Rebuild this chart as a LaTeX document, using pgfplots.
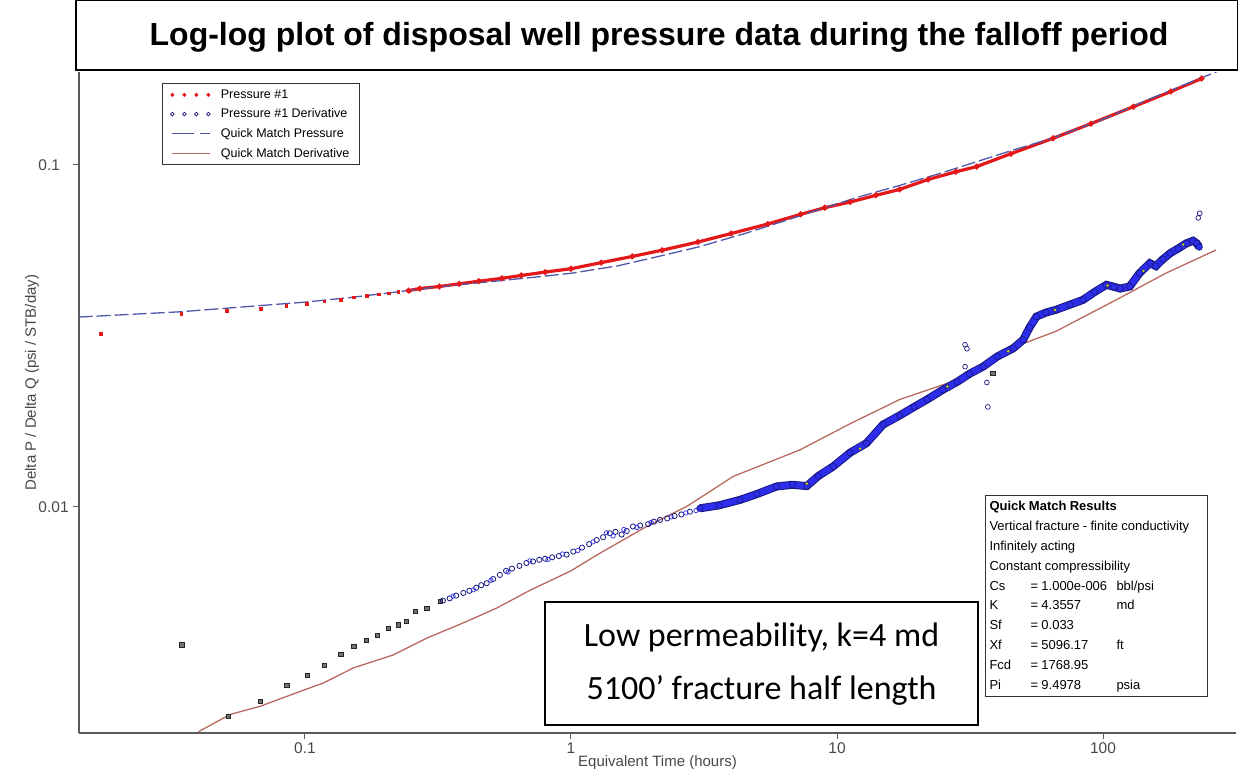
\documentclass[border=0pt]{standalone}
\usepackage{pgfplots}
\pgfplotsset{compat=1.18}
\usepackage{fontspec}
\setmainfont{Liberation Sans}
\newfontfamily\carlito{Carlito}
\definecolor{presred}{RGB}{228,24,24}
\definecolor{qmblue}{RGB}{80,88,170}
\definecolor{qmbrown}{RGB}{185,105,95}
\definecolor{derblue}{RGB}{45,45,235}
\definecolor{derdark}{RGB}{25,25,130}
\definecolor{axgray}{RGB}{90,90,90}
\begin{document}
\begin{tikzpicture}[x=1pt,y=1pt]
\useasboundingbox (0,0) rectangle (1238,772);
\begin{axis}[
  at={(79pt,39pt)}, anchor=south west,
  scale only axis, width=1157pt, height=661pt,
  xmode=log, ymode=log,
  xmin=0.01414, xmax=316.2, ymin=0.00218, ymax=0.187,
  axis x line*=bottom, axis y line*=left,
  axis line style={line width=1.6pt, axgray},
  xtick={0.1,1,10,100}, xticklabels={0.1,1,10,100},
  ytick={0.01,0.1}, yticklabels={0.01,0.1},
  minor tick length=0pt, major tick length=6pt, tick align=outside,
  tick style={line width=1pt, axgray},
  xticklabel style={font=\fontsize{15.5}{17}\selectfont, text=black!72},
  yticklabel style={font=\fontsize{15.5}{17}\selectfont, text=black!72, text width=31pt, align=left},
  xlabel={Equivalent Time (hours)},
  ylabel={Delta P / Delta Q (psi / STB/day)},
  every axis x label/.style={at={(axis description cs:0.5,-0.0454)}, anchor=center,
     font=\fontsize{15}{17}\selectfont, text=black!72},
  every axis y label/.style={at={(axis description cs:-0.0406,0.53)}, anchor=center, rotate=90,
     font=\fontsize{15}{17}\selectfont, text=black!72},
  legend style={at={(0.0715,0.983)}, anchor=north west, draw=black!80, line width=1pt,
    fill=white, font=\fontsize{12.5}{14}\selectfont, row sep=5pt, inner xsep=8pt, inner ysep=4pt},
  legend cell align=left,
]
% Quick match derivative line (drawn first, legend added later)
\addplot[qmbrown, line width=1.3pt, forget plot] coordinates {
(0.0398,0.00220)(0.0523,0.00247)(0.0678,0.00261)(0.1,0.00292)(0.117,0.00305)(0.152,0.00338)
(0.215,0.00369)(0.287,0.00413)(0.405,0.00462)(0.526,0.00506)(0.701,0.00570)(1.0,0.00650)
(1.285,0.00732)(1.925,0.00876)(2.72,0.01002)(4.07,0.01227)(7.26,0.01468)(11.2,0.01750)
(17.2,0.02060)(28.3,0.02350)(47.2,0.02950)(66.5,0.03260)(112,0.04030)(172,0.04820)(266,0.05640)};
% Pressure #1 (sparse early points)
\addplot[only marks, mark=square*, mark size=1.3pt, presred,
  legend image code/.code={\foreach \xx in {0,12,24,36}{\fill[presred] (\xx pt,0pt) circle (1.4pt);}\path (46pt,0pt);}]
 coordinates {
(0.01706,0.0321)(0.0342,0.0367)(0.0509,0.0374)(0.0681,0.0380)(0.0849,0.0387)(0.1017,0.0393)
(0.118,0.0399)(0.1364,0.0403)(0.1525,0.0410)(0.1707,0.0414)(0.189,0.0419)(0.206,0.0422)
(0.224,0.0426)(0.245,0.0429)};
\addlegendentry{Pressure \#1}
% Pressure #1 (dense)
\addplot[presred, line width=3.2pt, mark=*, mark size=1pt, forget plot] coordinates {
(0.245,0.0429)(0.27,0.0435)(0.32,0.0441)(0.38,0.0449)(0.45,0.0457)(0.55,0.0466)(0.65,0.0475)
(0.80,0.0486)(1.0,0.0497)(1.3,0.0518)(1.7,0.0540)(2.2,0.0563)(3.0,0.0595)(4.0,0.0630)
(5.5,0.0672)(7.3,0.0717)(9.0,0.0750)(11.2,0.0779)(14,0.0815)(17.2,0.0848)(22,0.0907)
(28,0.0955)(33.5,0.0989)(45,0.1078)(65,0.1197)(90,0.1320)(130,0.1480)(180,0.1640)(235,0.1790)};
% Quick match pressure dashed
\addplot[qmblue, line width=1.3pt, dash pattern=on 14pt off 4pt, forget plot] coordinates {
(0.0141,0.0359)(0.034,0.0372)(0.068,0.0388)(0.1,0.0397)(0.15,0.0410)(0.2,0.0421)(0.3,0.0438)
(0.45,0.0452)(0.7,0.0468)(1.0,0.0482)(1.5,0.0507)(2.2,0.0543)(3.0,0.0575)(4.5,0.0630)
(6.5,0.0690)(9.0,0.0750)(12,0.0805)(17.2,0.0871)(25,0.0950)(33.5,0.1022)(45,0.1100)
(65,0.1200)(100,0.1360)(150,0.1560)(235,0.1800)(330,0.2000)};
% Derivative: early points
\addplot[only marks, mark=square*, mark size=2.1pt, mark options={fill=black!55, draw=black!85, line width=0.5pt},
  legend image code/.code={\foreach \xx in {0,12,24,36}{\draw[derdark, line width=0.7pt] (\xx pt,0pt) circle (1.8pt);}\path (46pt,0pt);}]
 coordinates {
(0.0344,0.00395)(0.0515,0.00244)(0.0678,0.00270)(0.0854,0.00300)(0.1017,0.00321)(0.1178,0.00345)
(0.1364,0.00371)(0.1525,0.00392)(0.170,0.00408)(0.187,0.00422)(0.205,0.00442)(0.224,0.00452)
(0.241,0.00462)(0.259,0.00494)(0.287,0.00506)(0.322,0.00529)};
\addlegendentry{Pressure \#1 Derivative}
% Derivative mid range (open circles, dense)
\addplot[only marks, mark=o, mark size=2.6pt, mark options={draw=derdark, line width=0.8pt}, forget plot] coordinates {
(0.33,0.00532)(0.35,0.00540)(0.37,0.00550)(0.394,0.00560)(0.415,0.00568)(0.44,0.00580)(0.46,0.00590)
(0.482,0.00598)(0.51,0.00615)(0.54,0.00632)(0.57,0.00650)(0.60,0.00660)(0.64,0.00672)(0.68,0.00685)
(0.72,0.00692)(0.76,0.00700)(0.80,0.00705)(0.85,0.00712)(0.90,0.00718)(0.963,0.00725)(1.02,0.00740)
(1.10,0.00760)(1.17,0.00778)(1.25,0.00800)(1.32,0.00815)(1.40,0.00837)(1.47,0.00845)(1.55,0.00830)
(1.62,0.00850)(1.71,0.00876)(1.82,0.00882)(1.95,0.00890)(2.05,0.00905)(2.16,0.00916)(2.3,0.00925)
(2.45,0.00940)(2.6,0.00950)(2.8,0.00968)(3.05,0.00990)};
\addplot[only marks, mark=o, mark size=2.2pt, mark options={draw=derblue, line width=0.7pt}, forget plot] coordinates {
(0.36,0.00548)(0.43,0.00572)(0.50,0.00610)(0.58,0.00645)(0.70,0.00695)(0.82,0.00702)(0.93,0.00728)
(1.06,0.00745)(1.21,0.00790)(1.36,0.00840)(1.44,0.00822)(1.58,0.00858)(1.77,0.00870)(2.0,0.00900)
(2.38,0.00935)(2.7,0.00960)(2.95,0.00975)};
% Derivative late range (dense cloud)
\addplot[derdark, line width=8pt, forget plot] coordinates {
(3.05,0.00990)(3.6,0.01010)(4.32,0.01048)(5.0,0.01090)(5.93,0.01147)(6.8,0.01160)(7.7,0.01150)
(8.5,0.01230)(9.67,0.01312)(11.2,0.01440)(12.9,0.01535)(14.9,0.01740)(17.2,0.01850)(19.5,0.01960)
(21.8,0.02060)(25,0.02200)(28.3,0.02320)(31.5,0.02450)(35.4,0.02570)(40,0.02750)(46,0.02910)
(50.1,0.03080)(53,0.03350)(56.2,0.03600)(61,0.03700)(66.5,0.03770)(75,0.03900)(84.1,0.04030)
(93,0.04250)(103,0.04460)(110,0.04400)(116,0.04350)(126,0.04410)(137,0.04820)(150,0.05160)
(158,0.05060)(168,0.05300)(179,0.05520)(192,0.05700)(206,0.05900)(218,0.06000)(225,0.05900)(230,0.05750)};
\addplot[derblue, line width=6pt, forget plot] coordinates {
(3.05,0.00990)(3.6,0.01010)(4.32,0.01048)(5.0,0.01090)(5.93,0.01147)(6.8,0.01160)(7.7,0.01150)
(8.5,0.01230)(9.67,0.01312)(11.2,0.01440)(12.9,0.01535)(14.9,0.01740)(17.2,0.01850)(19.5,0.01960)
(21.8,0.02060)(25,0.02200)(28.3,0.02320)(31.5,0.02450)(35.4,0.02570)(40,0.02750)(46,0.02910)
(50.1,0.03080)(53,0.03350)(56.2,0.03600)(61,0.03700)(66.5,0.03770)(75,0.03900)(84.1,0.04030)
(93,0.04250)(103,0.04460)(110,0.04400)(116,0.04350)(126,0.04410)(137,0.04820)(150,0.05160)
(158,0.05060)(168,0.05300)(179,0.05520)(192,0.05700)(206,0.05900)(218,0.06000)(225,0.05900)(230,0.05750)};
\addplot[only marks, mark=*, mark size=3.2pt, mark options={fill=derblue, draw=derdark, line width=0.6pt}, forget plot] coordinates {
(3.05,0.00990)(3.6,0.01010)(4.32,0.01048)(5.0,0.01090)(5.93,0.01147)(6.8,0.01160)(7.7,0.01150)
(8.5,0.01230)(9.67,0.01312)(11.2,0.01440)(12.9,0.01535)(14.9,0.01740)(17.2,0.01850)(19.5,0.01960)
(21.8,0.02060)(25,0.02200)(28.3,0.02320)(31.5,0.02450)(35.4,0.02570)(40,0.02750)(46,0.02910)
(50.1,0.03080)(53,0.03350)(56.2,0.03600)(61,0.03700)(66.5,0.03770)(75,0.03900)(84.1,0.04030)
(93,0.04250)(103,0.04460)(110,0.04400)(116,0.04350)(126,0.04410)(137,0.04820)(150,0.05160)
(158,0.05060)(168,0.05300)(179,0.05520)(192,0.05700)(206,0.05900)(218,0.06000)(225,0.05900)(230,0.05750)};
% Derivative outliers
\addplot[only marks, mark=o, mark size=2.4pt, derdark, line width=0.7pt, forget plot] coordinates {
(30.3,0.0298)(30.8,0.0290)(30.3,0.0257)(36.9,0.0196)(36.6,0.0231)(231,0.0722)(228,0.0700)};
\addplot[only marks, mark=square*, mark size=2.1pt, mark options={fill=black!55, draw=black!85}, forget plot] coordinates {(38.5,0.0246)};
% yellow highlighted points
\addplot[only marks, mark=*, mark size=1.8pt, mark options={fill=yellow!85!green, draw=derdark, line width=0.4pt}, forget plot] coordinates {
(7.7,0.0117)(12.2,0.0148)(26,0.0225)(44,0.0285)(66,0.0376)(104,0.0444)(142,0.0490)(200,0.0585)};
% Legend-only entries for quick match lines
\addlegendimage{legend image code/.code={\draw[qmblue, line width=1.3pt] (0pt,0pt) -- (22pt,0pt); \draw[qmblue, line width=1.3pt] (28pt,0pt) -- (38pt,0pt);\path (46pt,0pt);}}
\addlegendentry{Quick Match Pressure}
\addlegendimage{legend image code/.code={\draw[qmbrown, line width=1.3pt] (0pt,0pt) -- (38pt,0pt);\path (46pt,0pt);}}
\addlegendentry{Quick Match Derivative}
\end{axis}
% Title box
\draw[line width=1.5pt] (75.75,702) rectangle (1237.25,771.25);
\node[font=\bfseries\fontsize{32}{36}\selectfont] at (659,735) {Log-log plot of disposal well pressure data during the falloff period};
% Low permeability box
\node[draw=black, line width=1.3pt, fill=white, minimum width=433pt, minimum height=123pt, inner sep=0pt] at (761.5,108.5) {};
\node[font=\carlito\fontsize{34}{38}\selectfont] at (761.5,135) {Low permeability, k=4 md};
\node[font=\carlito\fontsize{34}{38}\selectfont] at (761.5,82) {5100’ fracture half length};
% Quick match results box
\node[draw=black!80, line width=1pt, fill=white, anchor=north west, inner xsep=4pt, inner ysep=1.5pt, text width=214pt, align=left] at (985,277) {%
\fontsize{13}{19.8}\selectfont
\begin{tabular}{@{}p{41pt}@{}p{86pt}@{}l@{}}
\multicolumn{3}{@{}l@{}}{\textbf{Quick Match Results}}\\
\multicolumn{3}{@{}l@{}}{Vertical fracture - finite conductivity}\\
\multicolumn{3}{@{}l@{}}{Infinitely acting}\\
\multicolumn{3}{@{}l@{}}{Constant compressibility}\\
Cs & = 1.000e-006 & bbl/psi\\
K & = 4.3557 & md\\
Sf & = 0.033 & \\
Xf & = 5096.17 & ft\\
Fcd & = 1768.95 & \\
Pi & = 9.4978 & psia
\end{tabular}};
\end{tikzpicture}
\end{document}
